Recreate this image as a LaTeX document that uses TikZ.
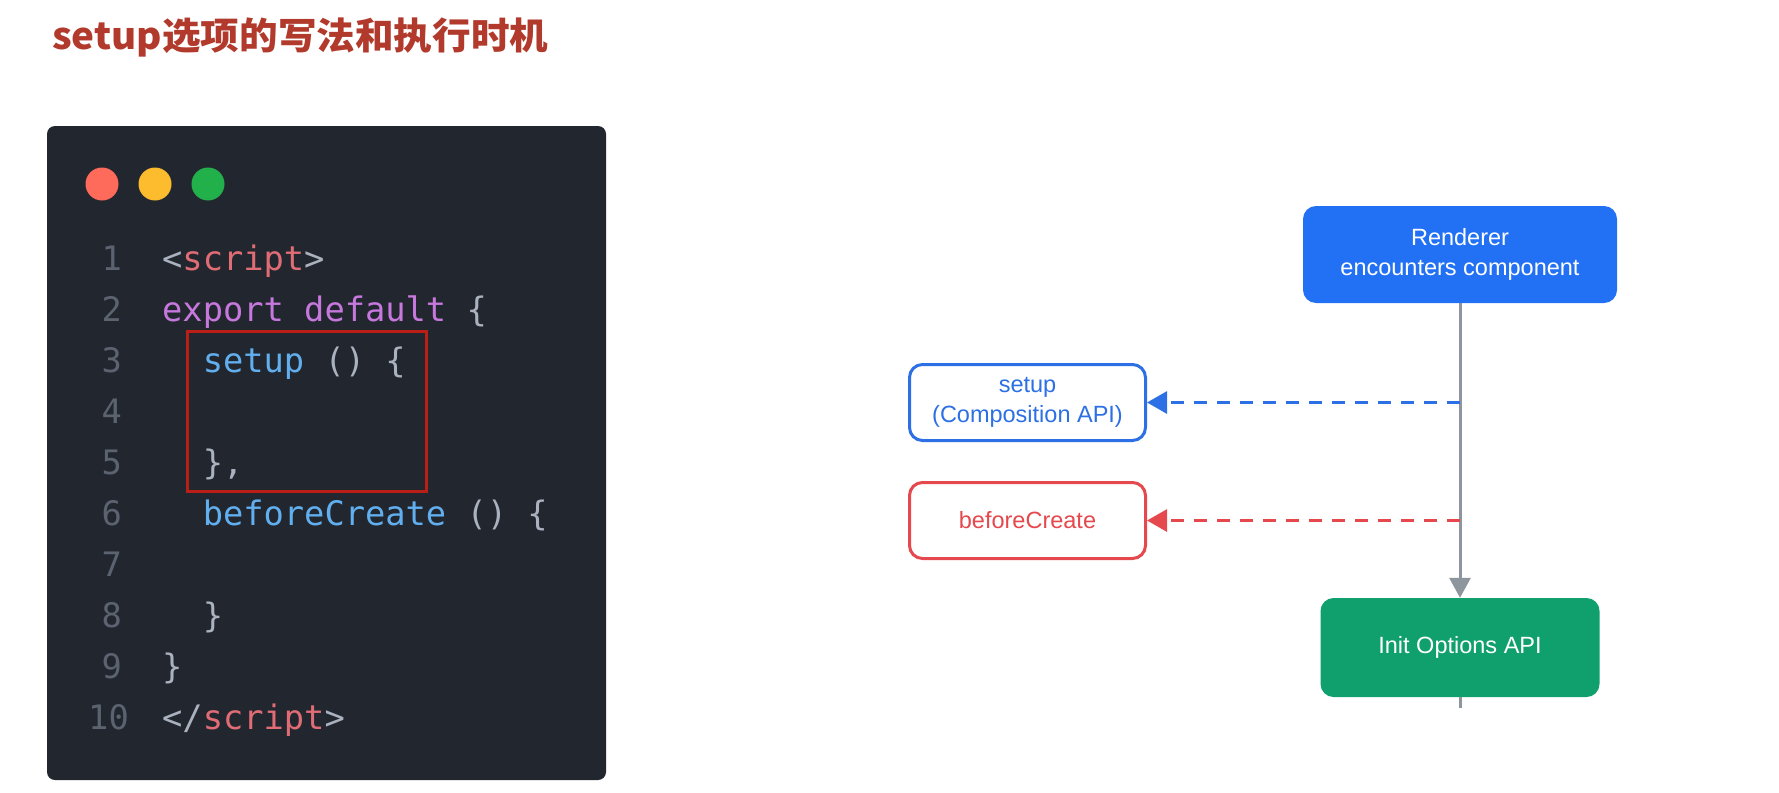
\documentclass[tikz,border=0pt]{standalone}
\usepackage{fontspec}
\usepackage{graphicx}
\usetikzlibrary{arrows.meta}
\newfontfamily\cjkfont{Noto Sans CJK SC}
\newfontfamily\codefont{DejaVu Sans Mono}
\newfontfamily\diafont{Liberation Sans}
\definecolor{titlered}{HTML}{B23A2C}
\definecolor{codebg}{HTML}{22262E}
\definecolor{dotred}{HTML}{FF6B5A}
\definecolor{dotyellow}{HTML}{FDBC2E}
\definecolor{dotgreen}{HTML}{22B04B}
\definecolor{clnum}{HTML}{5C6370}
\definecolor{cpun}{HTML}{ABB2BF}
\definecolor{ctag}{HTML}{E06C75}
\definecolor{ckw}{HTML}{C678DD}
\definecolor{cfn}{HTML}{61AFEF}
\definecolor{hlred}{HTML}{BA1F17}
\definecolor{rblue}{HTML}{2271F5}
\definecolor{sblue}{HTML}{2D6FE4}
\definecolor{bred}{HTML}{E5484D}
\definecolor{igreen}{HTML}{10A06E}
\definecolor{trunk}{HTML}{8D969D}
\begin{document}
\begin{tikzpicture}[x=1pt,y=-1pt,
  codeline/.style={anchor=base west,inner sep=0pt,font=\codefont\fontsize{33.7}{40}\selectfont},
  lnum/.style={anchor=base east,inner sep=0pt,text=clnum,font=\codefont\fontsize{33.7}{40}\selectfont},
  flowbox/.style={rectangle,rounded corners=13pt,align=center,inner sep=0pt,font=\diafont\fontsize{23.5}{30}\selectfont},
  outlinebox/.style={flowbox,line width=3pt,fill=white,minimum width=236pt,minimum height=76pt},
  dasharrow/.style={line width=3pt,dash pattern=on 13pt off 10pt,-{Triangle[width=22pt,length=20pt]}}
]
\useasboundingbox (0,0) rectangle (1779,792);
\fill[white] (0,0) rectangle (1779,792);

% title
\node[anchor=base west,inner sep=0pt,text=titlered] (title) at (52,50)
  {\resizebox{496pt}{\height}{\cjkfont\bfseries\fontsize{37}{40}\selectfont setup选项的写法和执行时机}};

% code panel
\fill[codebg,rounded corners=8pt] (47,126) rectangle (606,780);
\fill[dotred] (102,184) circle (16.5pt);
\fill[dotyellow] (155,184) circle (16.5pt);
\fill[dotgreen] (208,184) circle (16.5pt);

\node[lnum] (n1) at (122,270) {1};
\node[lnum] (n2) at (122,321.1) {2};
\node[lnum] (n3) at (122,372.2) {3};
\node[lnum] (n4) at (122,423.3) {4};
\node[lnum] (n5) at (122,474.4) {5};
\node[lnum] (n6) at (122,525.5) {6};
\node[lnum] (n7) at (122,576.6) {7};
\node[lnum] (n8) at (122,627.7) {8};
\node[lnum] (n9) at (122,678.8) {9};
\node[lnum] (n10) at (129,729.9) {10};

\node[codeline] (c1) at (162,270) {{\color{cpun}<}{\color{ctag}script}{\color{cpun}>}};
\node[codeline] (c2) at (162,321.1) {{\color{ckw}export default} {\color{cpun}\{}};
\node[codeline] (c3) at (202.6,372.2) {{\color{cfn}setup} {\color{cpun}() \{}};
\node[codeline] (c5) at (202.6,474.4) {{\color{cpun}\},}};
\node[codeline] (c6) at (202.6,525.5) {{\color{cfn}beforeCreate} {\color{cpun}() \{}};
\node[codeline] (c8) at (202.6,627.7) {{\color{cpun}\}}};
\node[codeline] (c9) at (162,678.8) {{\color{cpun}\}}};
\node[codeline] (c10) at (162,729.9) {{\color{cpun}</}{\color{ctag}script}{\color{cpun}>}};

\draw[hlred,line width=3pt] (187.5,331.5) rectangle (426.5,491.5);

% flow diagram
\node[flowbox,fill=rblue,text=white,minimum width=314pt,minimum height=97pt] (renderer) at (1460,254.5) {Renderer\\encounters component};
\node[outlinebox,draw=sblue,text=sblue] (setup) at (1027.5,402.5) {setup\\(Composition API)};
\node[outlinebox,draw=bred,text=bred] (before) at (1027.5,520.5) {beforeCreate};
\node[flowbox,fill=igreen,text=white,minimum width=279pt,minimum height=99pt] (init) at (1460,647.5) {Init Options API};

\coordinate (ja) at (1460,402.5);
\coordinate (jb) at (1460,520.5);
\coordinate (tail) at (1460,708);

\draw[trunk,line width=3pt,-{Triangle[width=21pt,length=20pt]}] (renderer.south) -- (init.north);
\draw[trunk,line width=3pt] (init.south) -- (tail);
\draw[sblue,dasharrow] (ja) -- (setup.east);
\draw[bred,dasharrow] (jb) -- (before.east);
\end{tikzpicture}
\end{document}
